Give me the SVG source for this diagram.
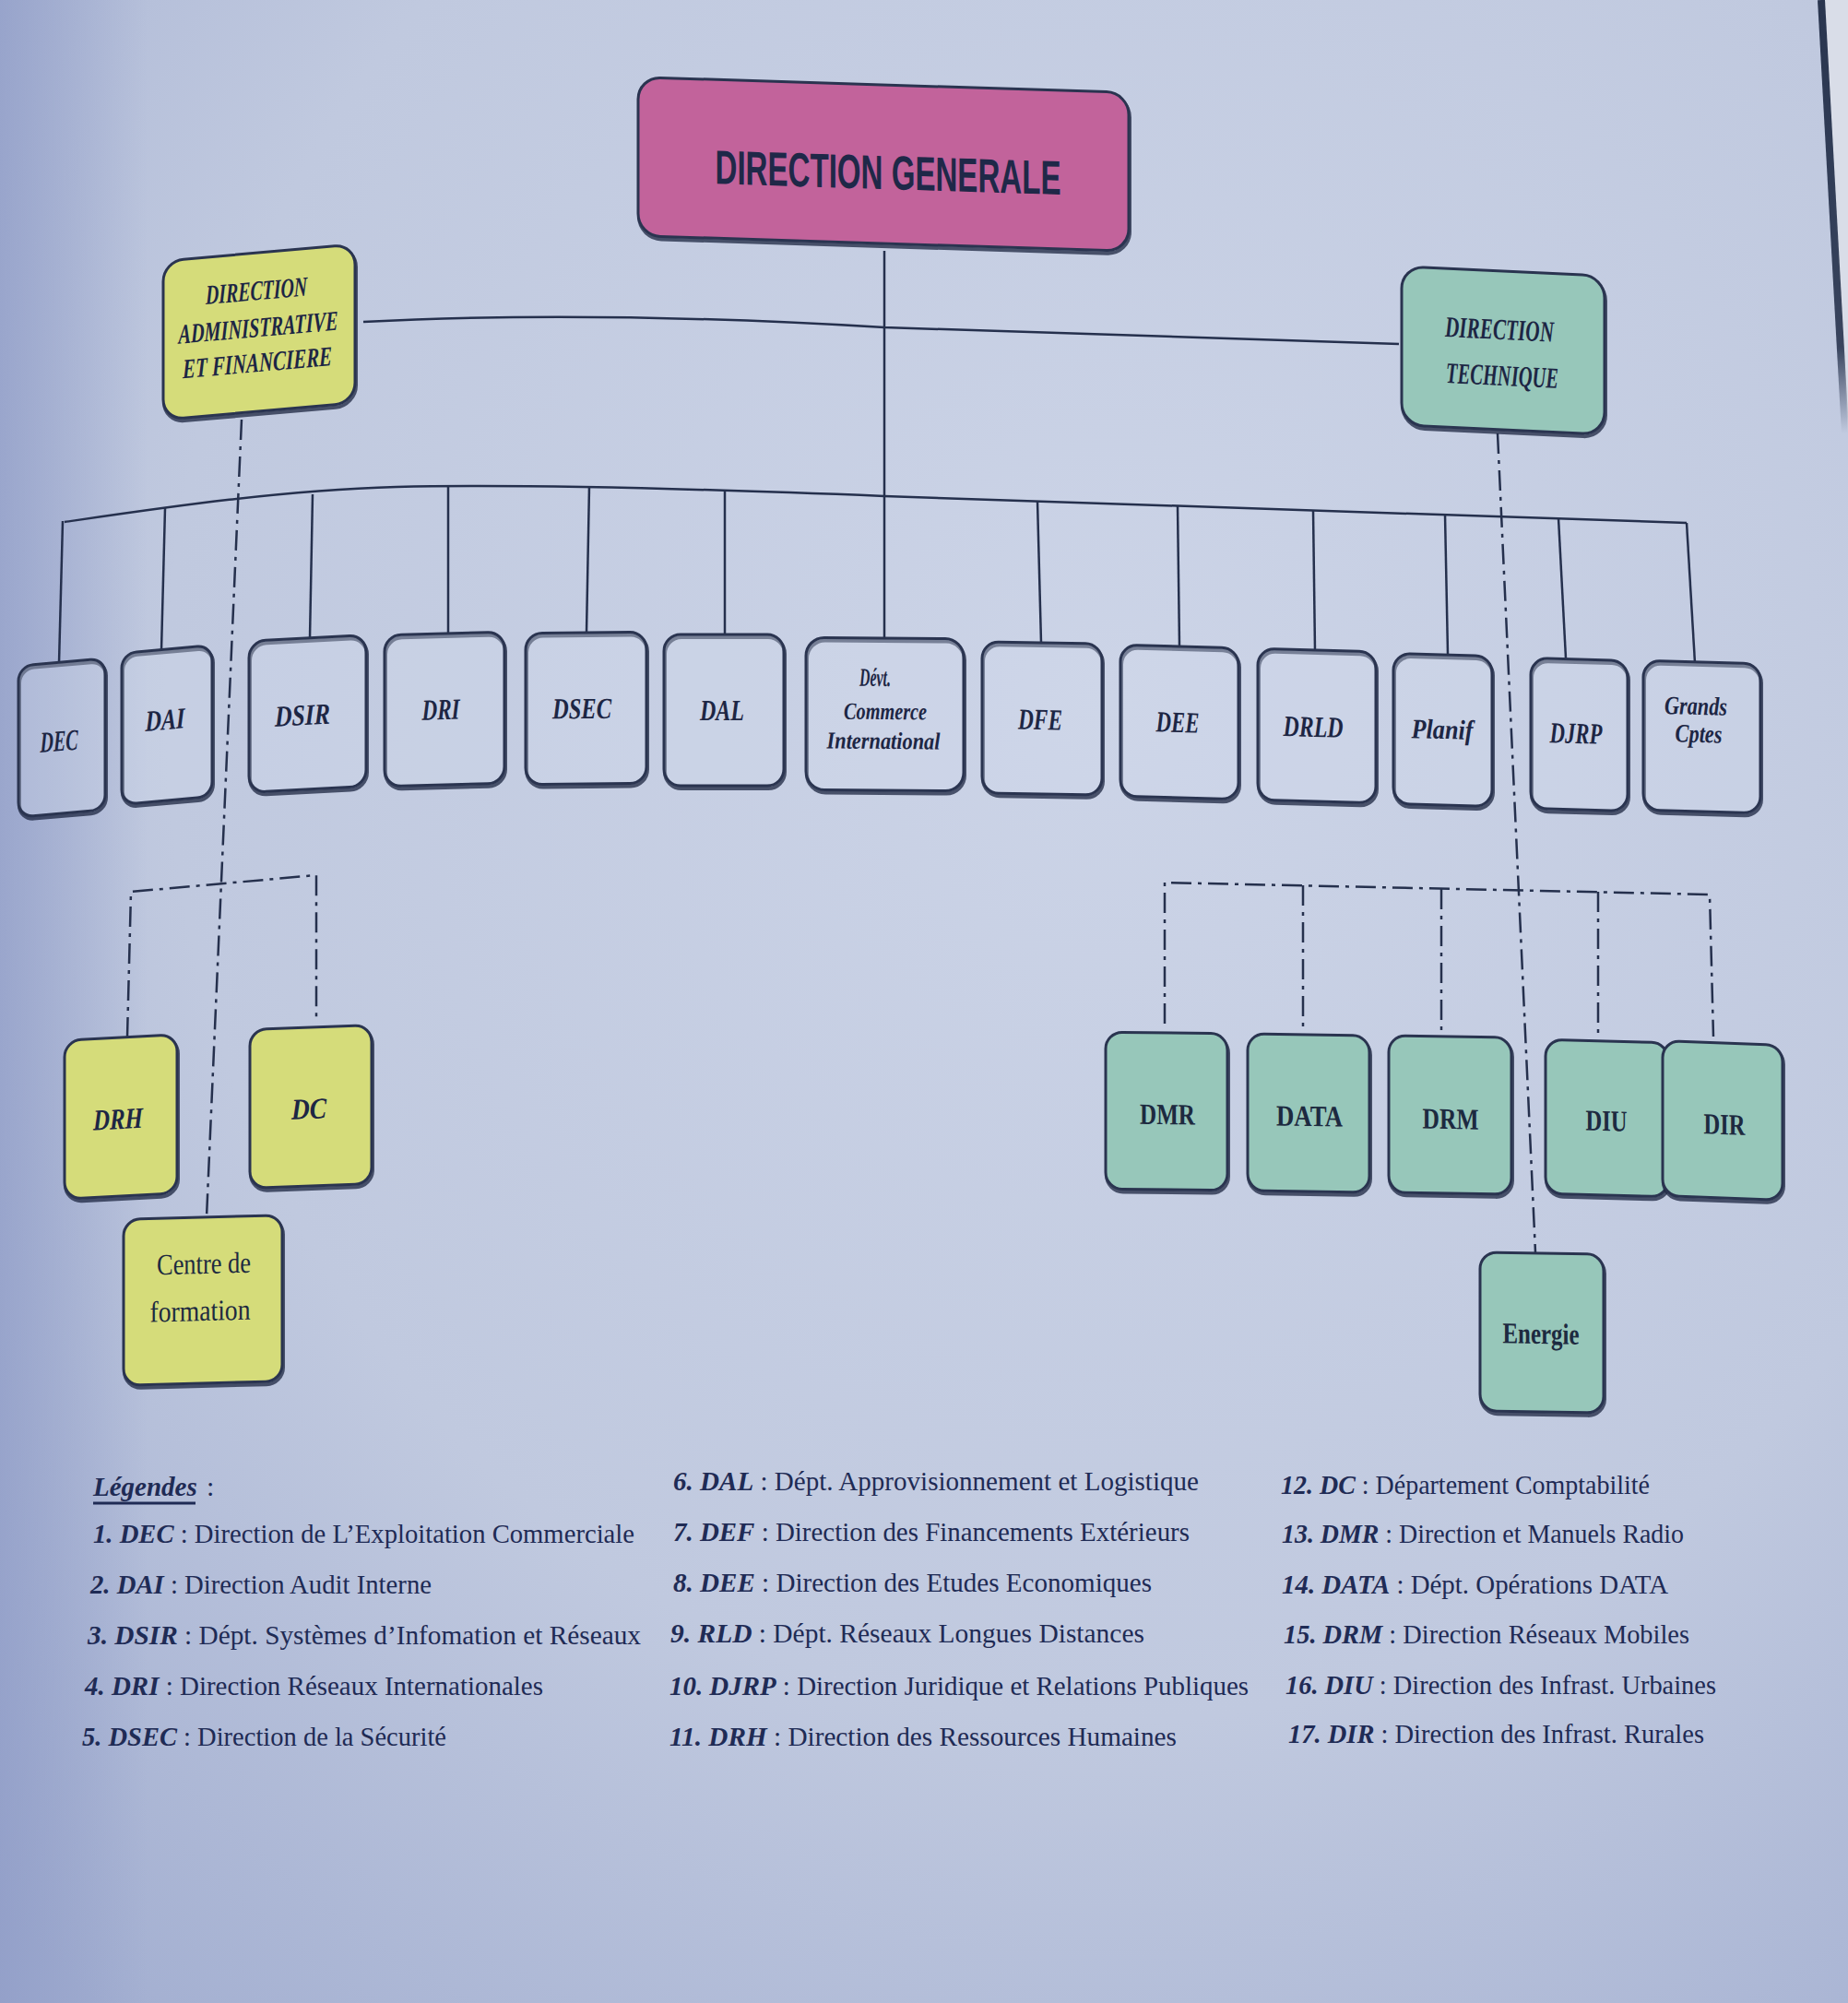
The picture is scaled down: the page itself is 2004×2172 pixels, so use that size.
<svg xmlns="http://www.w3.org/2000/svg" width="2004" height="2172" viewBox="0 0 2004 2172">
<defs>
<radialGradient id="bg" cx="0.6" cy="0.35" r="0.85">
<stop offset="0" stop-color="#ccd4e7"/>
<stop offset="0.6" stop-color="#c0c9df"/>
<stop offset="1" stop-color="#a3afd1"/>
</radialGradient>
<linearGradient id="lside" x1="0" y1="0" x2="1" y2="0">
<stop offset="0" stop-color="#8d9ac6" stop-opacity="0.7"/>
<stop offset="1" stop-color="#8d9ac6" stop-opacity="0"/>
</linearGradient>
<linearGradient id="edge" x1="0" y1="0" x2="0" y2="1">
<stop offset="0" stop-color="#29354f" stop-opacity="1"/>
<stop offset="0.8" stop-color="#29354f" stop-opacity="0.9"/>
<stop offset="1" stop-color="#29354f" stop-opacity="0"/>
</linearGradient>
<style>
.shd{fill:none;stroke:#1c2540;stroke-width:4;stroke-opacity:0.75}
.box{stroke:#2a3450;stroke-width:3}
.wht{fill:#d2d9ea;fill-opacity:0.35}
.yel{fill:#d5dc7a}
.teal{fill:#97c7ba}
.pink{fill:#c2639b}
.conn{fill:none;stroke:#25304d;stroke-width:2.5}
.dash{fill:none;stroke:#25304d;stroke-width:2.5;stroke-dasharray:22 7 4 7}
.lbl{font-family:"Liberation Serif",serif;font-weight:bold;font-style:italic;fill:#1d2644;text-anchor:middle}
.lbn{font-family:"Liberation Serif",serif;font-weight:bold;fill:#1d2a40;text-anchor:middle}
.lbr{font-family:"Liberation Serif",serif;fill:#1d2a40;text-anchor:middle}
.ttl{font-family:"Liberation Sans",sans-serif;font-weight:bold;fill:#1f2848;text-anchor:middle}
.lg{font-family:"Liberation Serif",serif;font-size:30px;fill:#1f2b55}
.b{font-weight:bold;font-style:italic}
</style>
</defs>

<rect x="0" y="0" width="2004" height="2172" fill="url(#bg)"/>
<rect x="0" y="0" width="160" height="2172" fill="url(#lside)"/>
<polygon points="1976,0 2004,0 2004,470" fill="#d9dde8"/>
<line x1="1975" y1="0" x2="2001" y2="470" stroke="url(#edge)" stroke-width="8"/>

<g id="connectors">
<path class="conn" d="M394,349 Q640,336 959,355 L1517,373"/>
<path class="conn" d="M959,272 L959,692"/>
<path class="conn" d="M70,566 C180,550 300,532 430,528 C560,525 760,530 959,538 L1829,567"/>
<path class="conn" d="M68,565 L64,719"/>
<path class="conn" d="M179,551 L175,705"/>
<path class="conn" d="M339,536 L336,692"/>
<path class="conn" d="M486,527 L486,687"/>
<path class="conn" d="M639,527 L636,686"/>
<path class="conn" d="M786,531 L786,687"/>
<path class="conn" d="M1125,543 L1129,697"/>
<path class="conn" d="M1277,548 L1279,701"/>
<path class="conn" d="M1424,553 L1426,706"/>
<path class="conn" d="M1567,558 L1570,710"/>
<path class="conn" d="M1690,562 L1698,714"/>
<path class="conn" d="M1829,567 L1838,719"/>
<path class="dash" d="M262,455 L224,1320"/>
<path class="dash" d="M138,1125 L142,967 L343,949 L343,1108"/>
<path class="dash" d="M1624,470 L1665,1358"/>
<path class="dash" d="M1263,1110 L1263,957 L1854,970 L1858,1124"/>
<path class="dash" d="M1413,960 L1413,1114"/>
<path class="dash" d="M1563,964 L1563,1117"/>
<path class="dash" d="M1733,967 L1733,1126"/>
</g>

<g id="n-dg" transform="translate(958 178) skewY(1.8)">
<rect class="shd" x="-266" y="-86" width="532" height="172" rx="24" transform="translate(1 3)"/>
<rect class="box pink" x="-266" y="-86" width="532" height="172" rx="24"/>
<text class="ttl" x="5" y="27" font-size="52" textLength="375" lengthAdjust="spacingAndGlyphs">DIRECTION GENERALE</text>
</g>

<g id="n-daf" transform="translate(281 360) skewY(-5)">
<rect class="shd" x="-104" y="-86" width="208" height="172" rx="22" transform="translate(1 3)"/>
<rect class="box yel" x="-104" y="-86" width="208" height="172" rx="22"/>
<text class="lbl" x="-3" y="-35" font-size="30" textLength="110" lengthAdjust="spacingAndGlyphs">DIRECTION</text>
<text class="lbl" x="-1" y="5" font-size="30" textLength="173" lengthAdjust="spacingAndGlyphs">ADMINISTRATIVE</text>
<text class="lbl" x="-2" y="43" font-size="30" textLength="162" lengthAdjust="spacingAndGlyphs">ET FINANCIERE</text>
</g>

<g id="n-dt" transform="translate(1630 380) skewY(2.7)">
<rect class="shd" x="-110" y="-86" width="220" height="172" rx="24" transform="translate(1 3)"/>
<rect class="box teal" x="-110" y="-86" width="220" height="172" rx="24"/>
<text class="lbl" x="-4" y="-12" font-size="32" textLength="118" lengthAdjust="spacingAndGlyphs">DIRECTION</text>
<text class="lbl" x="-1" y="38" font-size="32" textLength="122" lengthAdjust="spacingAndGlyphs">TECHNIQUE</text>
</g>

<g id="n-dec" transform="translate(67 800) skewY(-5)">
<rect class="shd" x="-47" y="-82" width="94" height="164" rx="16" transform="translate(1 3)"/>
<rect class="box wht" x="-47" y="-82" width="94" height="164" rx="16"/>
<text class="lbl" x="-3" y="14" font-size="32" textLength="41" lengthAdjust="spacingAndGlyphs">DEC</text>
</g>
<g id="n-dai" transform="translate(181 786) skewY(-5)">
<rect class="shd" x="-49" y="-82" width="98" height="164" rx="16" transform="translate(1 3)"/>
<rect class="box wht" x="-49" y="-82" width="98" height="164" rx="16"/>
<text class="lbl" x="-2" y="5" font-size="32" textLength="43" lengthAdjust="spacingAndGlyphs">DAI</text>
</g>
<g id="n-dsir" transform="translate(333 774) skewY(-3)">
<rect class="shd" x="-63" y="-82" width="127" height="164" rx="18" transform="translate(1 3)"/>
<rect class="box wht" x="-63" y="-82" width="127" height="164" rx="18"/>
<text class="lbl" x="-5" y="12" font-size="32" textLength="60" lengthAdjust="spacingAndGlyphs">DSIR</text>
</g>
<g id="n-dri" transform="translate(482 769) skewY(-1.5)">
<rect class="shd" x="-65" y="-82" width="130" height="164" rx="18" transform="translate(1 3)"/>
<rect class="box wht" x="-65" y="-82" width="130" height="164" rx="18"/>
<text class="lbl" x="-4" y="11" font-size="32" textLength="41" lengthAdjust="spacingAndGlyphs">DRI</text>
</g>
<g id="n-dsec" transform="translate(635 768) skewY(-0.5)">
<rect class="shd" x="-65" y="-82" width="131" height="164" rx="18" transform="translate(1 3)"/>
<rect class="box wht" x="-65" y="-82" width="131" height="164" rx="18"/>
<text class="lbl" x="-4" y="11" font-size="32" textLength="64" lengthAdjust="spacingAndGlyphs">DSEC</text>
</g>
<g id="n-dal" transform="translate(785 770)">
<rect class="shd" x="-65" y="-82" width="130" height="164" rx="18" transform="translate(1 3)"/>
<rect class="box wht" x="-65" y="-82" width="130" height="164" rx="18"/>
<text class="lbl" x="-2" y="11" font-size="32" textLength="48" lengthAdjust="spacingAndGlyphs">DAL</text>
</g>
<g id="n-dci" transform="translate(959 774) skewY(0.5)">
<rect class="shd" x="-85" y="-82" width="171" height="165" rx="20" transform="translate(1 3)"/>
<rect class="box wht" x="-85" y="-82" width="171" height="165" rx="20"/>
<text class="lbl" x="-10" y="-30" font-size="28" textLength="34" lengthAdjust="spacingAndGlyphs">Dévt.</text>
<text class="lbl" x="1" y="6" font-size="26" textLength="90" lengthAdjust="spacingAndGlyphs">Commerce</text>
<text class="lbl" x="-1" y="38" font-size="26" textLength="123" lengthAdjust="spacingAndGlyphs">International</text>
</g>
<g id="n-dfe" transform="translate(1130 779) skewY(1)">
<rect class="shd" x="-65" y="-82" width="130" height="164" rx="18" transform="translate(1 3)"/>
<rect class="box wht" x="-65" y="-82" width="130" height="164" rx="18"/>
<text class="lbl" x="-2" y="12" font-size="32" textLength="48" lengthAdjust="spacingAndGlyphs">DFE</text>
</g>
<g id="n-dee" transform="translate(1279 783) skewY(1.5)">
<rect class="shd" x="-64" y="-82" width="128" height="164" rx="18" transform="translate(1 3)"/>
<rect class="box wht" x="-64" y="-82" width="128" height="164" rx="18"/>
<text class="lbl" x="-2" y="11" font-size="32" textLength="47" lengthAdjust="spacingAndGlyphs">DEE</text>
</g>
<g id="n-drld" transform="translate(1428 787) skewY(1.5)">
<rect class="shd" x="-64" y="-82" width="128" height="164" rx="18" transform="translate(1 3)"/>
<rect class="box wht" x="-64" y="-82" width="128" height="164" rx="18"/>
<text class="lbl" x="-4" y="12" font-size="32" textLength="65" lengthAdjust="spacingAndGlyphs">DRLD</text>
</g>
<g id="n-planif" transform="translate(1564 791) skewY(1.5)">
<rect class="shd" x="-53" y="-81" width="107" height="163" rx="18" transform="translate(1 3)"/>
<rect class="box wht" x="-53" y="-81" width="107" height="163" rx="18"/>
<text class="lbl" x="0" y="10" font-size="30" textLength="67" lengthAdjust="spacingAndGlyphs">Planif</text>
</g>
<g id="n-djrp" transform="translate(1712 796) skewY(1.5)">
<rect class="shd" x="-52" y="-81" width="105" height="163" rx="18" transform="translate(1 3)"/>
<rect class="box wht" x="-52" y="-81" width="105" height="163" rx="18"/>
<text class="lbl" x="-3" y="10" font-size="32" textLength="57" lengthAdjust="spacingAndGlyphs">DJRP</text>
</g>
<g id="n-gc" transform="translate(1845 799) skewY(1.5)">
<rect class="shd" x="-63" y="-81" width="127" height="162" rx="18" transform="translate(1 3)"/>
<rect class="box wht" x="-63" y="-81" width="127" height="162" rx="18"/>
<text class="lbl" x="-6" y="-24" font-size="28" textLength="68" lengthAdjust="spacingAndGlyphs">Grands</text>
<text class="lbl" x="-3" y="6" font-size="28" textLength="51" lengthAdjust="spacingAndGlyphs">Cptes</text>
</g>

<g id="n-drh" transform="translate(131 1211) skewY(-3)">
<rect class="shd" x="-61" y="-86" width="122" height="172" rx="18" transform="translate(1 3)"/>
<rect class="box yel" x="-61" y="-86" width="122" height="172" rx="18"/>
<text class="lbl" x="-3" y="13" font-size="32" textLength="54" lengthAdjust="spacingAndGlyphs">DRH</text>
</g>
<g id="n-dc" transform="translate(337 1200) skewY(-2)">
<rect class="shd" x="-66" y="-86" width="132" height="172" rx="18" transform="translate(1 3)"/>
<rect class="box yel" x="-66" y="-86" width="132" height="172" rx="18"/>
<text class="lbl" x="-2" y="13" font-size="32" textLength="38" lengthAdjust="spacingAndGlyphs">DC</text>
</g>
<g id="n-cf" transform="translate(220 1410) skewY(-1.5)">
<rect class="shd" x="-86" y="-90" width="172" height="180" rx="18" transform="translate(1 3)"/>
<rect class="box yel" x="-86" y="-90" width="172" height="180" rx="18"/>
<text class="lbr" x="1" y="-29" font-size="32" textLength="102" lengthAdjust="spacingAndGlyphs">Centre de</text>
<text class="lbr" x="-3" y="22" font-size="32" textLength="109" lengthAdjust="spacingAndGlyphs">formation</text>
</g>

<g id="n-dmr" transform="translate(1265 1205) skewY(0.7)">
<rect class="shd" x="-66" y="-85" width="132" height="170" rx="18" transform="translate(1 3)"/>
<rect class="box teal" x="-66" y="-85" width="132" height="170" rx="18"/>
<text class="lbn" x="1" y="14" font-size="32" textLength="60" lengthAdjust="spacingAndGlyphs">DMR</text>
</g>
<g id="n-data" transform="translate(1419 1207) skewY(1)">
<rect class="shd" x="-66" y="-85" width="132" height="170" rx="18" transform="translate(1 3)"/>
<rect class="box teal" x="-66" y="-85" width="132" height="170" rx="18"/>
<text class="lbn" x="1" y="14" font-size="32" textLength="72" lengthAdjust="spacingAndGlyphs">DATA</text>
</g>
<g id="n-drm" transform="translate(1572 1209) skewY(1)">
<rect class="shd" x="-66" y="-85" width="133" height="170" rx="18" transform="translate(1 3)"/>
<rect class="box teal" x="-66" y="-85" width="133" height="170" rx="18"/>
<text class="lbn" x="1" y="15" font-size="32" textLength="61" lengthAdjust="spacingAndGlyphs">DRM</text>
</g>
<g id="n-diu" transform="translate(1742 1212) skewY(1.5)">
<rect class="shd" x="-66" y="-83" width="133" height="167" rx="18" transform="translate(1 3)"/>
<rect class="box teal" x="-66" y="-83" width="133" height="167" rx="18"/>
<text class="lbn" x="0" y="14" font-size="32" textLength="45" lengthAdjust="spacingAndGlyphs">DIU</text>
</g>
<g id="n-dir" transform="translate(1868 1215) skewY(2)">
<rect class="shd" x="-65" y="-84" width="130" height="168" rx="18" transform="translate(1 3)"/>
<rect class="box teal" x="-65" y="-84" width="130" height="168" rx="18"/>
<text class="lbn" x="2" y="15" font-size="32" textLength="45" lengthAdjust="spacingAndGlyphs">DIR</text>
</g>
<g id="n-energie" transform="translate(1672 1445) skewY(1)">
<rect class="shd" x="-67" y="-86" width="134" height="172" rx="18" transform="translate(1 3)"/>
<rect class="box teal" x="-67" y="-86" width="134" height="172" rx="18"/>
<text class="lbn" x="-1" y="12" font-size="32" textLength="83" lengthAdjust="spacingAndGlyphs">Energie</text>
</g>

<g id="legend">
<text class="lg b" x="101" y="1622" font-size="29" style="font-size:29px">Légendes</text>
<line x1="101" y1="1630" x2="212" y2="1630" stroke="#1f2b55" stroke-width="3"/>
<text class="lg" x="224" y="1622">:</text>
<text class="lg" x="101" y="1673" textLength="587" lengthAdjust="spacingAndGlyphs"><tspan class="b">1. DEC</tspan> : Direction de L’Exploitation Commerciale</text>
<text class="lg" x="98" y="1728" textLength="370" lengthAdjust="spacingAndGlyphs"><tspan class="b">2. DAI</tspan> : Direction Audit Interne</text>
<text class="lg" x="95" y="1783" textLength="600" lengthAdjust="spacingAndGlyphs"><tspan class="b">3. DSIR</tspan> : Dépt. Systèmes d’Infomation et Réseaux</text>
<text class="lg" x="92" y="1838" textLength="497" lengthAdjust="spacingAndGlyphs"><tspan class="b">4. DRI</tspan> : Direction Réseaux Internationales</text>
<text class="lg" x="89" y="1893" textLength="395" lengthAdjust="spacingAndGlyphs"><tspan class="b">5. DSEC</tspan> : Direction de la Sécurité</text>

<text class="lg" x="730" y="1616" textLength="570" lengthAdjust="spacingAndGlyphs"><tspan class="b">6. DAL</tspan> : Dépt. Approvisionnement et Logistique</text>
<text class="lg" x="730" y="1671" textLength="560" lengthAdjust="spacingAndGlyphs"><tspan class="b">7. DEF</tspan> : Direction des Financements Extérieurs</text>
<text class="lg" x="730" y="1726" textLength="519" lengthAdjust="spacingAndGlyphs"><tspan class="b">8. DEE</tspan> : Direction des Etudes Economiques</text>
<text class="lg" x="727" y="1781" textLength="514" lengthAdjust="spacingAndGlyphs"><tspan class="b">9. RLD</tspan> : Dépt. Réseaux Longues Distances</text>
<text class="lg" x="726" y="1838" textLength="628" lengthAdjust="spacingAndGlyphs"><tspan class="b">10. DJRP</tspan> : Direction Juridique et Relations Publiques</text>
<text class="lg" x="726" y="1893" textLength="550" lengthAdjust="spacingAndGlyphs"><tspan class="b">11. DRH</tspan> : Direction des Ressources Humaines</text>

<text class="lg" x="1389" y="1620" textLength="400" lengthAdjust="spacingAndGlyphs"><tspan class="b">12. DC</tspan> : Département Comptabilité</text>
<text class="lg" x="1390" y="1673" textLength="436" lengthAdjust="spacingAndGlyphs"><tspan class="b">13. DMR</tspan> : Direction et Manuels Radio</text>
<text class="lg" x="1390" y="1728" textLength="419" lengthAdjust="spacingAndGlyphs"><tspan class="b">14. DATA</tspan> : Dépt. Opérations DATA</text>
<text class="lg" x="1392" y="1782" textLength="440" lengthAdjust="spacingAndGlyphs"><tspan class="b">15. DRM</tspan> : Direction Réseaux Mobiles</text>
<text class="lg" x="1394" y="1837" textLength="467" lengthAdjust="spacingAndGlyphs"><tspan class="b">16. DIU</tspan> : Direction des Infrast. Urbaines</text>
<text class="lg" x="1397" y="1890" textLength="451" lengthAdjust="spacingAndGlyphs"><tspan class="b">17. DIR</tspan> : Direction des Infrast. Rurales</text>
</g>
</svg>
